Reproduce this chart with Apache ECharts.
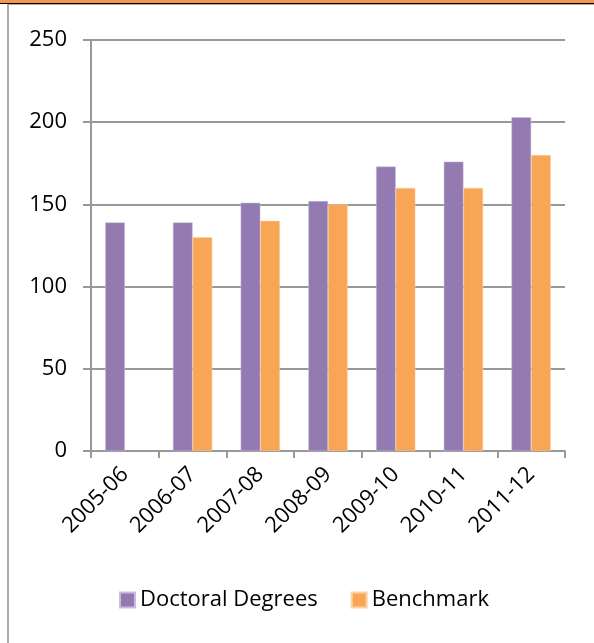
<!DOCTYPE html>
<html>
<head>
<meta charset="utf-8">
<script src="https://cdn.jsdelivr.net/npm/echarts@6/dist/echarts.min.js"></script>
<style>
  html, body { margin: 0; padding: 0; background: #fff; }
  #chart { width: 594px; height: 643px; }
</style>
</head>
<body>
<div id="chart"></div>
<script>
var years = ["2005-06", "2006-07", "2007-08", "2008-09", "2009-10", "2010-11", "2011-12"];
var doctoralDegrees = [139, 139, 151, 152, 173, 176, 203];
var benchmark = [null, 130, 140, 150, 160, 160, 180];
var yTicks = [0, 50, 100, 150, 200, 250];

var font = "'Open Sans', Lato, sans-serif";
var chart = echarts.init(document.getElementById("chart"));

var option = {
  animation: false,
  textStyle: { fontFamily: font },
  title: {
    text: "Doctoral Degrees per Year",
    left: "center",
    top: -21,
    padding: 0,
    textStyle: { fontSize: 20, fontWeight: "bold", color: "#222", fontFamily: font }
  },
  graphic: [
    // orange header strip and the frame lines
    { type: "rect", z: -1, shape: { x: 0, y: 0, width: 594, height: 3 }, style: { fill: "#F79646" } },
    { type: "rect", z: 10, shape: { x: 0, y: 3, width: 594, height: 1 }, style: { fill: "#000" } },
    { type: "rect", z: 10, shape: { x: 8, y: 4, width: 586, height: 1 }, style: { fill: "#aaa" } },
    { type: "rect", z: 10, shape: { x: 7, y: 4, width: 2, height: 639 }, style: { fill: "#aaa" } }
  ],
  legend: {
    bottom: 27,
    left: 114,
    itemWidth: 15,
    itemHeight: 15,
    itemGap: 33,
    icon: "rect",
    textStyle: { fontSize: 22, color: "#000", fontFamily: font }
  },
  grid: { left: 91, right: 29, top: 40, bottom: 192 },
  xAxis: {
    type: "category",
    data: years,
    axisLine: { lineStyle: { color: "#999", width: 2 } },
    axisTick: { show: true, length: 7, lineStyle: { color: "#999", width: 2 } },
    axisLabel: { rotate: 45, fontSize: 22, color: "#000", margin: 20, interval: 0 }
  },
  yAxis: {
    type: "value",
    min: yTicks[0],
    max: yTicks[yTicks.length - 1],
    interval: 50,
    axisLine: { show: true, lineStyle: { color: "#999", width: 2 } },
    axisTick: { show: true, length: 8, lineStyle: { color: "#999", width: 2 } },
    axisLabel: { fontSize: 22, color: "#000", margin: 24 },
    splitLine: { lineStyle: { color: "#999", width: 2 } }
  },
  series: [
    {
      name: "Doctoral Degrees",
      type: "bar",
      data: doctoralDegrees,
      barGap: "0%",
      barCategoryGap: "42%",
      itemStyle: { color: "#937BB2", borderColor: "#c9bbdc", borderWidth: 0.5 }
    },
    {
      name: "Benchmark",
      type: "bar",
      data: benchmark,
      itemStyle: { color: "#F8A656", borderColor: "#fcd1a8", borderWidth: 0.5 }
    }
  ]
};

chart.setOption(option);
</script>
</body>
</html>
